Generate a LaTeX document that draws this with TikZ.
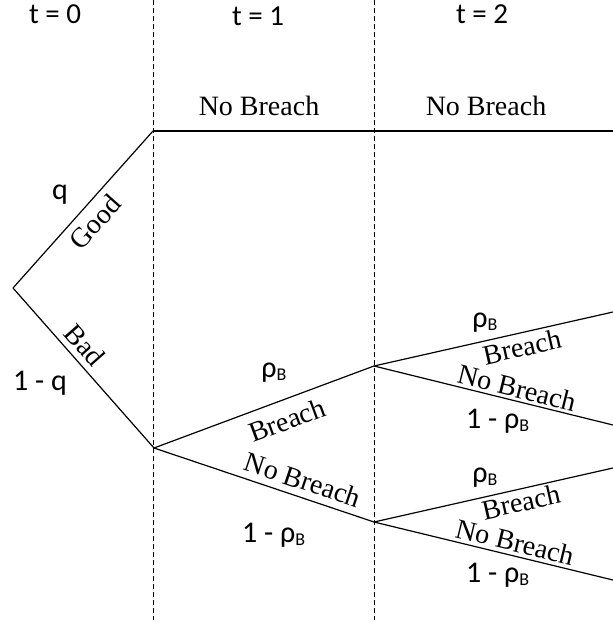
\documentclass[tikz,border=0pt]{standalone}
\usepackage{fontspec}
\setmainfont{Liberation Serif}
\newfontfamily\calib{Carlito}
\newcommand{\rhoB}{ρ\raisebox{-0.13em}{\fontsize{18}{18}\selectfont B}}
\tikzset{
  branch/.style={line width=1.2pt, draw=black},
  period/.style={line width=0.9pt, draw=black, dash pattern=on 5pt off 3pt},
  wordlbl/.style={font=\fontsize{28}{32}\selectfont, inner sep=0pt},
  mathlbl/.style={font=\calib\fontsize{30}{34}\selectfont, inner sep=0pt},
  timelbl/.style={font=\calib\fontsize{29}{32}\selectfont, inner sep=0pt},
}
\begin{document}
\begin{tikzpicture}[x=1pt,y=-1pt]
\useasboundingbox (0,0) rectangle (613,624);
% tree points
\coordinate (root) at (13,288);
\coordinate (G) at (153,131);
\coordinate (Bd) at (154,448);
\coordinate (M) at (374,131);
\coordinate (E0) at (613,131);
\coordinate (B1) at (374,366);
\coordinate (N1) at (374,522);
\coordinate (Eu1) at (613,312);
\coordinate (Ed1) at (613,425);
\coordinate (Eu2) at (613,468);
\coordinate (Ed2) at (613,580);
% period separators
\coordinate (d1t) at (153,0);
\coordinate (d1b) at (153,620);
\coordinate (d2t) at (374,0);
\coordinate (d2b) at (374,620);
\draw[period] (d1t) -- (d1b);
\draw[period] (d2t) -- (d2b);
% branches
\draw[branch] (root) -- (G);
\draw[branch] (root) -- (Bd);
\draw[branch] (G) -- (M) -- (E0);
\draw[branch] (Bd) -- (B1);
\draw[branch] (Bd) -- (N1);
\draw[branch] (B1) -- (Eu1);
\draw[branch] (B1) -- (Ed1);
\draw[branch] (N1) -- (Eu2);
\draw[branch] (N1) -- (Ed2);
% time labels
\node[timelbl, anchor=base] (t0) at (55,23) {t = 0};
\node[timelbl, anchor=base] (t1) at (258,25) {t = 1};
\node[timelbl, anchor=base] (t2) at (482,23) {t = 2};
% top labels
\node[wordlbl, anchor=base] (nb0a) at (259,115) {No Breach};
\node[wordlbl, anchor=base] (nb0b) at (486,115) {No Breach};
% first split
\node[mathlbl, anchor=base] (q) at (60,199) {q};
\node[mathlbl, anchor=base west] (q1) at (13,390) {1 - q};
\node[wordlbl, rotate=48.3] (good) at (95,222) {Good};
\node[wordlbl, rotate=-48.6] (bad) at (85,345) {Bad};
% bad at t=1
\node[mathlbl, anchor=base] (r1) at (274,377) {\rhoB};
\node[wordlbl, rotate=20.4] (br1) at (287,420) {Breach};
\node[wordlbl, rotate=-18.6] (nb1) at (303,480) {No Breach};
\node[mathlbl, anchor=base west] (r1c) at (242,542) {1 - \rhoB};
% upper t=2
\node[mathlbl, anchor=base] (r2) at (485,327) {\rhoB};
\node[wordlbl, rotate=12.7] (br2) at (522,347) {Breach};
\node[wordlbl, rotate=-13.9] (nb2) at (517,388) {No Breach};
\node[mathlbl, anchor=base west] (r2c) at (466,428) {1 - \rhoB};
% lower t=2
\node[mathlbl, anchor=base] (r3) at (485,482) {\rhoB};
\node[wordlbl, rotate=12.7] (br3) at (521,502) {Breach};
\node[wordlbl, rotate=-13.6] (nb3) at (515,542) {No Breach};
\node[mathlbl, anchor=base west] (r3c) at (466,582) {1 - \rhoB};
\end{tikzpicture}
\end{document}
